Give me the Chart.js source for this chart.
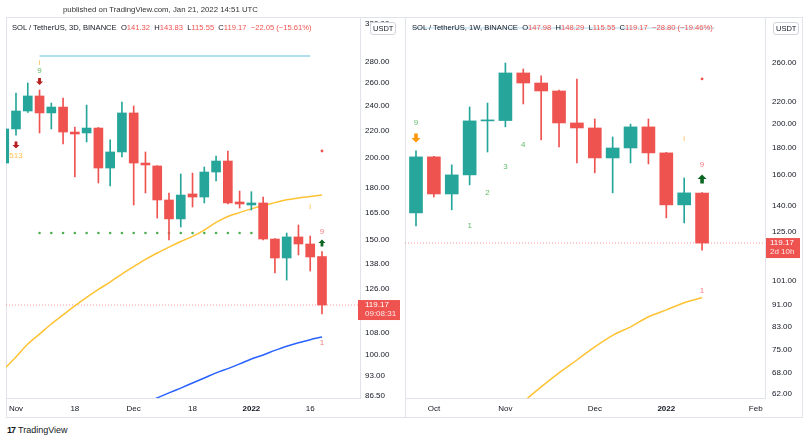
<!DOCTYPE html>
<html>
<head>
<meta charset="utf-8">
<script src="https://cdn.jsdelivr.net/npm/chart.js@4.4.1/dist/chart.umd.min.js"></script>
<style>
  body { margin: 0; background: #fff; width: 809px; height: 440px; overflow: hidden; position: relative;
         font-family: "Liberation Sans", Arial, sans-serif; color: #131722; }
  canvas { position: absolute; top: 0; }
  #left { left: 0; }
  #right { left: 400px; }
  .pane { position: absolute; top: 17px; height: 401px; border: 1px solid #e0e3eb; box-sizing: border-box; }
  .title { position: absolute; left: 63px; top: 5px; font-size: 7.8px; color: #333; white-space: nowrap; }
  .head { position: absolute; top: 23px; font-size: 7.6px; white-space: nowrap; color: #131722; }
  .head .r { color: #ef5350; }
  .unit { position: absolute; top: 22px; font-size: 7.5px; line-height: 9px; padding: 1px 2px;
          border: 1px solid #d1d4dc; border-radius: 3px; background: #fff; color: #131722; }
  .logo { position: absolute; left: 7px; top: 425px; font-size: 9px; white-space: nowrap; color: #131722; }
  .logo b { font-weight: 900; letter-spacing: -1px; margin-right: 3px; }
</style>
</head>
<body>
<div class="pane" style="left:6px;width:400px"></div>
<div class="pane" style="left:405px;width:398px"></div>
<canvas id="left" width="405" height="420"></canvas>
<canvas id="right" width="409" height="420"></canvas>

<div class="title">published on TradingView.com, Jan 21, 2022 14:51 UTC</div>
<div class="head" style="left:12px">SOL / TetherUS, 3D, BINANCE&nbsp; O<span class="r">141.32</span>&nbsp; H<span class="r">143.83</span>&nbsp; L<span class="r">115.55</span>&nbsp; C<span class="r">119.17</span>&nbsp; <span class="r">−22.05 (−15.61%)</span></div>
<div class="head" style="left:412px">SOL / TetherUS, 1W, BINANCE&nbsp; O<span class="r">147.98</span>&nbsp; H<span class="r">148.29</span>&nbsp; L<span class="r">115.55</span>&nbsp; C<span class="r">119.17</span>&nbsp; <span class="r">−28.80 (−19.46%)</span></div>
<div class="unit" style="left:370px">USDT</div>
<div class="unit" style="left:773px">USDT</div>
<div class="logo"><b>17</b>TradingView</div>

<script>
// ---- 3D chart (left) ----
const leftOpen  = [196.3, 221.3, 235.7, 248.5, 234.1, 239.0, 218.9, 218.2, 222.0, 192.9, 204.1, 234.1, 196.3, 194.3,
                   172.4, 161.3, 176.1, 174.2, 190.2, 197.7, 171.2, 169.4, 170.6, 150.3, 140.6, 151.4, 147.7, 141.32];
const leftHigh  = [224.4, 251.1, 260.1, 253.8, 242.4, 246.7, 222.8, 240.7, 222.5, 212.9, 243.3, 239.9, 204.1, 194.5,
                   176.7, 188.9, 189.5, 193.6, 201.2, 204.8, 177.9, 177.5, 174.2, 150.5, 153.5, 157.9, 151.9, 143.83];
const leftLow   = [192.9, 216.6, 234.5, 218.2, 221.3, 209.9, 186.9, 211.4, 183.0, 181.1, 200.5, 169.4, 176.7, 161.8,
                   149.8, 156.8, 168.2, 170.6, 184.3, 170.0, 167.6, 166.4, 149.8, 133.4, 130.1, 142.1, 134.3, 115.55];
const leftClose = [221.3, 235.7, 248.5, 234.1, 239.0, 218.9, 217.4, 222.0, 192.9, 204.1, 234.1, 196.3, 195.0, 172.4,
                   161.3, 175.4, 174.2, 190.2, 197.7, 170.6, 170.0, 170.6, 150.3, 140.6, 151.4, 147.7, 141.1, 119.17];
const leftMA    = [95.2, 99.3, 103.9, 107.6, 111.5, 115.1, 118.8, 122.4, 125.9, 129.2, 132.9, 136.4, 139.9, 143.1,
                   146.1, 149.0, 151.7, 155.1, 159.3, 162.7, 164.9, 167.1, 169.1, 170.8, 172.5, 173.6, 174.5, 175.4];
const leftSlowStart = 11;
const leftSlow  = [83.0, 84.5, 86.0, 87.5, 89.0, 90.6, 92.2, 93.9, 95.3, 96.9, 98.6, 100.0, 101.6, 103.1, 104.4, 105.5, 106.5];
const leftResist = 286.0;            // light blue horizontal
const leftResistFrom = 3, leftResistTo = 26;
const leftSupport = 153.5;           // green dotted level
const leftSupportFrom = 3, leftSupportTo = 21;
const leftTicksY = [320, 280, 260, 240, 220, 200, 180, 165, 150, 138, 126, 108, 100, 93, 86.5];
const leftTickPos = [1, 6, 11, 16, 21, 26];
const leftTickLabels = ['Nov', '18', 'Dec', '18', '2022', '16'];
const leftMarks = [
  { x: 3, v: 279, t: 'i', c: '#ffb74d' },
  { x: 3, v: 271.2, t: '9', c: '#66bb6a' },
  { x: 3, v: 261.5, t: 'down', c: '#b71c1c', s: 7 },
  { x: 1, v: 209.2, t: 'down', c: '#b71c1c', s: 7 },
  { x: 1, v: 201.2, t: '513', c: '#ffc04d' },
  { x: 27, v: 204.8, t: 'dot', c: '#ef5350' },
  { x: 26, v: 168.2, t: 'i', c: '#ffb74d' },
  { x: 27, v: 154.1, t: '9', c: '#f77c80' },
  { x: 27, v: 148.2, t: 'up', c: '#0b6623', s: 7 },
  { x: 27, v: 104.3, t: '1', c: '#f77c80' }
];

// ---- 1W chart (right) ----
const rightOpen  = [135.8, 173.1, 147.4, 160.1, 202.3, 202.6, 249.0, 238.4, 230.3, 200.5, 196.2, 172.3, 179.9, 197.1, 176.1, 140.6, 147.98];
const rightHigh  = [177.6, 173.5, 167.2, 214.9, 218.6, 260.0, 253.3, 245.8, 231.3, 242.6, 204.0, 188.7, 199.5, 204.0, 176.5, 158.0, 148.29];
const rightLow   = [128.4, 145.5, 137.6, 153.3, 176.8, 197.1, 217.7, 186.3, 180.7, 168.6, 161.5, 148.1, 168.6, 167.9, 132.9, 130.0, 115.55];
const rightClose = [173.1, 147.4, 160.1, 202.3, 202.6, 249.0, 238.4, 230.3, 200.5, 196.2, 172.3, 179.9, 197.1, 176.1, 140.6, 148.1, 119.17];
const rightMAStart = 6;
const rightMA    = [59.9, 63.9, 67.9, 71.8, 76.0, 79.9, 82.9, 86.6, 89.2, 92.0, 94.0];
const rightTop = 302.6;              // light blue line behind the legend
const rightTicksY = [260, 220, 200, 180, 160, 140, 125, 101, 91, 83, 75, 68, 62];
const rightTickPos = [1, 5, 10, 14, 19];
const rightTickLabels = ['Oct', 'Nov', 'Dec', '2022', 'Feb'];
const rightMarks = [
  { x: 0, v: 200.5, t: '9', c: '#66bb6a' },
  { x: 0, v: 187.9, t: 'down', c: '#ff9800', s: 9 },
  { x: 3, v: 128.4, t: '1', c: '#66bb6a' },
  { x: 4, v: 148.1, t: '2', c: '#66bb6a' },
  { x: 5, v: 165.7, t: '3', c: '#66bb6a' },
  { x: 6, v: 182.3, t: '4', c: '#66bb6a' },
  { x: 16, v: 242.6, t: 'dot', c: '#ef5350' },
  { x: 15, v: 187.1, t: 'i', c: '#ffb74d' },
  { x: 16, v: 167.2, t: '9', c: '#f77c80' },
  { x: 16, v: 157.3, t: 'up', c: '#0b6623', s: 9 },
  { x: 16, v: 96.9, t: '1', c: '#f77c80' }
];

const lastPrice = 119.17;
const UP = '#26a69a', DOWN = '#ef5350';
const FONT = 'Liberation Sans';

function drawArrow(ctx, px, py, dir, s) {
  const h = s / 2, sh = s * 0.2;
  const d = dir === 'down' ? 1 : -1;
  ctx.beginPath();
  ctx.moveTo(px - sh, py - d * h);
  ctx.lineTo(px + sh, py - d * h);
  ctx.lineTo(px + sh, py);
  ctx.lineTo(px + h, py);
  ctx.lineTo(px, py + d * h);
  ctx.lineTo(px - h, py);
  ctx.lineTo(px - sh, py);
  ctx.closePath();
  ctx.fill();
}

const marksPlugin = {
  id: 'marks',
  afterDatasetsDraw(chart, args, opts) {
    const { ctx, scales: { x, y } } = chart;
    ctx.save();
    opts.items.forEach(m => {
      const px = x.getPixelForValue(m.x), py = y.getPixelForValue(m.v);
      ctx.fillStyle = m.c;
      if (m.t === 'up' || m.t === 'down') {
        drawArrow(ctx, px, py, m.t, m.s);
      } else if (m.t === 'dot') {
        ctx.beginPath();
        ctx.arc(px, py, 1.4, 0, Math.PI * 2);
        ctx.fill();
      } else {
        ctx.font = '8px ' + FONT;
        ctx.textAlign = 'center';
        ctx.textBaseline = 'middle';
        ctx.fillText(m.t, px, py);
      }
    });
    ctx.restore();
  },
  afterDraw(chart, args, opts) {
    const { ctx, scales: { y } } = chart;
    const py = y.getPixelForValue(lastPrice);
    ctx.save();
    ctx.fillStyle = DOWN;
    ctx.fillRect(y.left + opts.boxOff, py - 5, opts.boxW, 20);
    ctx.fillStyle = '#fff';
    ctx.font = '8px ' + FONT;
    ctx.textAlign = 'left';
    ctx.textBaseline = 'middle';
    ctx.fillText(lastPrice.toFixed(2), y.left + 5, py);
    ctx.fillStyle = 'rgba(255,255,255,0.85)';
    ctx.fillText(opts.countdown, y.left + 5, py + 9);
    ctx.restore();
  }
};

function candleSets(open, high, low, close, bodyW) {
  const col = c => (close[c.dataIndex] >= open[c.dataIndex] ? UP : DOWN);
  return [
    { type: 'bar', data: open.map((o, i) => ({ x: i, y: [o, close[i]] })), backgroundColor: col,
      barThickness: bodyW, grouped: false, minBarLength: 1, order: 1 },
    { type: 'bar', data: open.map((o, i) => ({ x: i, y: [low[i], high[i]] })), backgroundColor: col,
      barThickness: 1, grouped: false, order: 2 }
  ];
}

function lineSet(points, color, width, extra) {
  return Object.assign({ type: 'line', data: points, borderColor: color, borderWidth: width,
    pointRadius: 0, tension: 0.3, fill: false, order: 3 }, extra || {});
}

function makeChart(id, cfg) {
  return new Chart(document.getElementById(id), {
    type: 'bar',
    data: { datasets: cfg.datasets },
    options: {
      responsive: false, animation: false, events: [],
      layout: { padding: cfg.padding },
      plugins: { legend: { display: false }, tooltip: { enabled: false },
                 marks: { items: cfg.marks, boxOff: cfg.boxOff, boxW: cfg.boxW, countdown: cfg.countdown } },
      scales: {
        x: {
          type: 'linear', min: cfg.xMin, max: cfg.xMax, offset: false,
          grid: { display: false, drawTicks: false, tickLength: 0 }, border: { display: true, color: '#e0e3eb' },
          afterBuildTicks: s => { s.ticks = cfg.tickPos.map(v => ({ value: v })); },
          afterFit: s => { s.height = 20; },
          ticks: {
            autoSkip: false, maxRotation: 0, padding: 6, color: '#131722',
            font: c => ({ family: FONT, size: 8, weight: c.tick && c.tick.label === '2022' ? 'bold' : 'normal' }),
            callback: v => cfg.tickLabels[cfg.tickPos.indexOf(v)]
          }
        },
        y: {
          type: 'logarithmic', position: 'right', min: cfg.yMin, max: cfg.yMax,
          grid: { display: false, drawTicks: false, tickLength: 0 }, border: { display: true, color: '#e0e3eb' },
          afterBuildTicks: s => { s.ticks = cfg.ticksY.map(v => ({ value: v })); },
          afterFit: s => { s.width = cfg.axisW; },
          ticks: { autoSkip: false, padding: cfg.labelPad, color: '#131722', font: { family: FONT, size: 8 },
                   callback: v => Number(v).toFixed(2) }
        }
      }
    },
    plugins: [marksPlugin]
  });
}

// left
const lMin = 0.15, lMax = 30.23;
makeChart('left', {
  padding: { left: 6, top: 17, right: 0, bottom: 2 },
  xMin: lMin, xMax: lMax, yMin: 85.95, yMax: 328.0, axisW: 45, labelPad: 5,
  tickPos: leftTickPos, tickLabels: leftTickLabels, ticksY: leftTicksY,
  marks: leftMarks, boxOff: -2, boxW: 42, countdown: '09:08:31',
  datasets: [
    ...candleSets(leftOpen, leftHigh, leftLow, leftClose, 9),
    lineSet(leftMA.map((v, i) => ({ x: i, y: v })), '#ffc233', 1.5),
    lineSet(leftSlow.map((v, i) => ({ x: i + leftSlowStart, y: v })), '#2962ff', 1.5),
    lineSet([{ x: leftResistFrom, y: leftResist }, { x: leftResistTo, y: leftResist }], '#b2dff0', 2, { order: 4 }),
    lineSet(Array.from({ length: leftSupportTo - leftSupportFrom + 1 },
      (_, k) => ({ x: leftSupportFrom + k, y: leftSupport })), '#4caf50', 0,
      { showLine: false, pointRadius: 1.3, pointBackgroundColor: '#4caf50', pointBorderWidth: 0, order: 4 }),
    lineSet([{ x: lMin, y: lastPrice }, { x: lMax, y: lastPrice }], 'rgba(239,83,80,0.6)', 1,
      { borderDash: [1, 2], tension: 0, order: 5 })
  ]
});

// right
const rMin = -0.615, rMax = 19.52;
makeChart('right', {
  padding: { left: 5, top: 17, right: 7, bottom: 2 },
  xMin: rMin, xMax: rMax, yMin: 60.9, yMax: 317.3, axisW: 37, labelPad: 7,
  tickPos: rightTickPos, tickLabels: rightTickLabels, ticksY: rightTicksY,
  marks: rightMarks, boxOff: 1, boxW: 34, countdown: '2d 10h',
  datasets: [
    ...candleSets(rightOpen, rightHigh, rightLow, rightClose, 13),
    lineSet(rightMA.map((v, i) => ({ x: i + rightMAStart, y: v })), '#ffc233', 1.5),
    lineSet([{ x: -0.22, y: rightTop }, { x: 16.7, y: rightTop }], '#cbe7f5', 1.5, { order: 6 }),
    lineSet([{ x: rMin, y: lastPrice }, { x: rMax, y: lastPrice }], 'rgba(239,83,80,0.6)', 1,
      { borderDash: [1, 2], tension: 0, order: 5 })
  ]
});
</script>
</body>
</html>
